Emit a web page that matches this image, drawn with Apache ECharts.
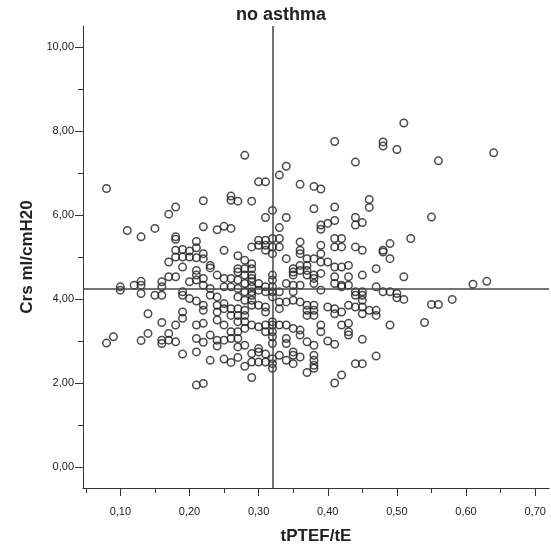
<!DOCTYPE html>
<html>
<head>
<meta charset="utf-8">
<title>no asthma</title>
<script src="https://cdn.jsdelivr.net/npm/echarts@6.0.0/dist/echarts.min.js"></script>
<style>
  html, body { margin: 0; padding: 0; background: #fff; }
  #chart { width: 551px; height: 550px; }
</style>
</head>
<body>
<div id="chart"></div>
<script>
// [tPTEF/tE, Crs ml/cmH20]
const points = [
  // upper part
  [0.08,6.63],[0.11,5.63],[0.13,5.48],[0.15,5.68],[0.17,6.02],[0.18,6.19],[0.18,5.48],[0.18,5.42],
  [0.21,5.37],[0.22,6.34],[0.22,5.72],[0.24,5.65],[0.25,5.73],[0.26,5.68],[0.26,6.45],[0.26,6.35],
  [0.27,6.33],[0.28,7.42],[0.29,6.33],[0.30,6.79],[0.31,6.79],[0.31,5.94],[0.32,6.11],[0.33,6.95],
  [0.33,5.70],[0.34,7.16],[0.34,5.94],[0.36,6.73],[0.38,6.68],[0.38,6.15],[0.39,6.62],[0.39,5.76],
  [0.39,5.66],[0.40,5.80],[0.41,7.75],[0.41,6.19],[0.41,5.87],[0.44,7.26],[0.44,5.94],[0.44,5.76],
  [0.45,5.82],[0.46,6.37],[0.46,6.18],[0.48,7.74],[0.48,7.64],[0.50,7.56],[0.51,8.19],[0.55,5.95],
  [0.56,7.29],[0.64,7.48],
  // right side
  [0.49,5.32],[0.52,5.44],[0.48,5.16],[0.48,5.12],[0.49,4.96],[0.51,4.53],[0.61,4.35],[0.63,4.42],
  [0.48,4.17],[0.49,4.17],[0.50,4.13],[0.50,4.03],[0.51,3.99],[0.55,3.87],[0.56,3.87],[0.58,3.99],
  [0.49,3.38],[0.54,3.44],
  // left side
  [0.25,5.16],[0.27,5.03],[0.18,5.16],[0.19,5.18],[0.18,5.00],[0.19,5.00],[0.20,5.14],[0.20,5.00],
  [0.21,5.22],[0.21,4.98],[0.22,5.08],[0.22,4.96],[0.23,4.80],[0.23,4.74],[0.17,4.88],[0.19,4.76],
  [0.21,4.68],[0.21,4.57],[0.22,4.49],[0.17,4.53],[0.18,4.53],[0.20,4.41],[0.21,4.45],[0.22,4.33],
  [0.24,4.57],[0.25,4.49],[0.26,4.49],[0.27,4.45],[0.27,4.72],[0.27,4.64],
  [0.16,4.41],[0.16,4.29],[0.16,4.09],[0.13,4.42],[0.13,4.33],[0.13,4.13],[0.12,4.33],[0.10,4.29],
  [0.10,4.21],[0.15,4.09],[0.19,4.17],[0.19,4.09],[0.20,4.01],[0.21,3.95],[0.22,3.85],[0.22,3.73],
  [0.23,4.25],[0.23,4.09],[0.24,4.05],[0.24,3.85],[0.24,3.69],[0.24,3.50],
  [0.25,4.29],[0.25,3.89],[0.25,3.77],[0.25,3.38],[0.26,4.29],[0.26,3.77],[0.26,3.61],[0.26,3.22],
  [0.27,4.25],[0.27,4.05],[0.27,3.77],[0.27,3.61],[0.27,3.46],[0.27,3.22],[0.27,3.06],
  [0.19,3.69],[0.19,3.54],[0.18,3.38],[0.14,3.65],[0.16,3.44],[0.21,3.38],[0.22,3.42],
  [0.09,3.10],[0.08,2.95],[0.14,3.18],[0.13,3.01],[0.17,3.18],[0.17,3.02],[0.16,3.02],[0.16,2.94],
  [0.18,2.98],[0.21,3.06],[0.22,2.97],[0.23,3.14],[0.24,3.02],[0.24,2.88],[0.25,3.02],[0.26,3.06],
  // centre
  [0.41,5.44],[0.42,5.44],[0.41,5.24],[0.42,5.24],[0.36,5.36],[0.36,5.16],[0.36,5.08],[0.39,5.28],
  [0.39,5.08],[0.44,5.24],[0.45,5.16],[0.30,5.40],[0.31,5.40],[0.30,5.28],[0.31,5.28],[0.29,5.24],
  [0.31,5.16],[0.32,5.44],[0.33,5.44],[0.32,5.24],[0.33,5.24],[0.32,5.08],[0.34,4.96],[0.37,4.96],
  [0.38,4.96],[0.39,4.88],[0.40,4.88],[0.41,4.76],[0.42,4.76],[0.43,4.80],[0.47,4.72],[0.35,4.72],
  [0.35,4.64],[0.35,4.57],[0.36,4.80],[0.36,4.68],[0.37,4.80],[0.37,4.68],[0.37,4.57],[0.38,4.57],
  [0.38,4.49],[0.38,4.37],[0.39,4.61],[0.41,4.53],[0.41,4.37],[0.42,4.33],[0.42,4.29],[0.43,4.53],
  [0.43,4.33],[0.45,4.57],[0.39,4.21],[0.36,4.33],[0.35,4.33],[0.34,4.37],[0.33,4.17],[0.44,4.17],
  [0.44,4.09],[0.45,4.17],[0.45,4.09],[0.45,3.97],[0.47,4.29],
  [0.28,4.92],[0.29,4.84],[0.28,4.72],[0.29,4.72],
  [0.29,4.57],[0.29,4.49],[0.29,4.41],[0.29,4.29],[0.29,4.17],[0.29,4.09],[0.29,3.97],[0.29,3.85],
  [0.28,4.57],[0.28,4.37],[0.28,4.17],[0.28,3.97],[0.28,3.73],[0.28,3.61],
  [0.30,4.37],[0.30,4.21],[0.31,4.29],[0.31,4.17],[0.30,3.85],[0.31,3.81],[0.31,3.69],
  [0.32,4.57],[0.32,4.45],[0.32,4.29],[0.32,4.17],[0.32,4.05],
  [0.33,3.93],[0.33,3.77],[0.34,3.93],[0.35,4.17],[0.35,3.97],[0.36,3.93],
  [0.37,3.85],[0.37,3.73],[0.37,3.61],[0.38,3.85],[0.38,3.73],[0.38,3.61],
  [0.40,3.81],[0.41,3.77],[0.41,3.65],[0.42,3.69],[0.43,3.85],
  [0.44,3.81],[0.45,3.81],[0.45,3.65],[0.46,3.73],[0.47,3.73],[0.47,3.61],
  [0.29,3.38],[0.30,3.34],[0.28,3.46],[0.28,3.30],[0.31,3.38],[0.31,3.22],[0.32,3.46],[0.32,3.38],
  [0.32,3.22],[0.32,3.10],[0.33,3.38],[0.34,3.38],[0.35,3.30],[0.36,3.26],[0.36,3.14],
  [0.39,3.38],[0.39,3.22],[0.42,3.38],[0.43,3.42],[0.43,3.22],[0.43,3.14],[0.45,3.04],
  [0.34,3.06],[0.37,2.98],[0.40,3.00],
  // lower part
  [0.19,2.69],[0.21,2.74],[0.23,2.54],[0.25,2.57],[0.26,2.49],[0.27,2.61],[0.27,2.86],[0.28,2.40],
  [0.21,1.95],[0.22,1.99],
  [0.28,2.90],[0.29,2.70],[0.30,2.82],[0.30,2.74],[0.31,2.69],[0.29,2.50],[0.30,2.50],[0.31,2.50],
  [0.29,2.13],[0.32,2.94],[0.32,2.58],[0.32,2.46],[0.32,2.35],[0.33,2.66],[0.34,2.94],[0.34,2.54],
  [0.35,2.74],[0.35,2.66],[0.35,2.46],[0.36,2.62],[0.37,2.25],[0.38,2.90],[0.38,2.66],[0.38,2.54],
  [0.38,2.42],[0.38,2.35],[0.41,2.92],[0.42,2.19],[0.41,2.00],[0.44,2.46],[0.45,2.46],[0.47,2.64]
];

// reference lines
const refX = 0.322;
const refY = 4.25;

const xTicks = [0.1, 0.2, 0.3, 0.4, 0.5, 0.6, 0.7];
const xMinorTicks = [0.05, 0.15, 0.25, 0.35, 0.45, 0.55, 0.65];
const yTicks = [0, 2, 4, 6, 8, 10];
const yMinorTicks = [1, 3, 5, 7, 9];

const xMin = 0.046, xMax = 0.72;
const yMin = -0.5, yMax = 10.5;

const font = "'Liberation Sans', Arial, sans-serif";
const ink = '#222';
const comma = (v) => v.toFixed(2).replace('.', ',');

let myChart = echarts.init(document.getElementById('chart'));
let option = {
  animation: false,
  title: {
    text: 'no asthma',
    left: 236,
    top: 6,
    padding: 0,
    textStyle: { fontFamily: font, fontSize: 18, fontWeight: 'bold', color: ink }
  },
  grid: { left: 83, right: 2, top: 26, bottom: 62 },
  xAxis: [
    {
      type: 'value', min: xMin, max: xMax,
      name: 'tPTEF/tE', nameLocation: 'middle', nameGap: 40,
      nameTextStyle: { fontFamily: font, fontSize: 17, fontWeight: 'bold', color: ink },
      axisLine: { show: true, onZero: false, lineStyle: { color: '#333', width: 1 } },
      axisTick: { show: true, length: 8, customValues: xTicks, lineStyle: { color: '#333' } },
      axisLabel: { customValues: xTicks, formatter: comma, fontFamily: font, fontSize: 11, color: ink, margin: 18 },
      splitLine: { show: false }
    },
    {
      // minor ticks
      type: 'value', min: xMin, max: xMax, position: 'bottom',
      axisLine: { show: false, onZero: false },
      axisTick: { show: true, length: 5, customValues: xMinorTicks, lineStyle: { color: '#333' } },
      axisLabel: { show: false },
      splitLine: { show: false }
    }
  ],
  yAxis: [
    {
      type: 'value', min: yMin, max: yMax,
      name: 'Crs ml/cmH20', nameLocation: 'middle', nameGap: 47,
      nameTextStyle: { fontFamily: font, fontSize: 17, fontWeight: 'bold', color: ink },
      axisLine: { show: true, onZero: false, lineStyle: { color: '#333', width: 1 } },
      axisTick: { show: true, length: 8, customValues: yTicks, lineStyle: { color: '#333' } },
      axisLabel: { customValues: yTicks, formatter: comma, fontFamily: font, fontSize: 11, color: ink, margin: 9 },
      splitLine: { show: false }
    },
    {
      // minor ticks
      type: 'value', min: yMin, max: yMax, position: 'left',
      axisLine: { show: false, onZero: false },
      axisTick: { show: true, length: 5, customValues: yMinorTicks, lineStyle: { color: '#333' } },
      axisLabel: { show: false },
      splitLine: { show: false }
    }
  ],
  series: [
    {
      type: 'scatter',
      data: points,
      symbol: 'circle',
      symbolSize: 7.5,
      itemStyle: { color: 'rgba(0,0,0,0)', borderColor: '#1e1e1e', borderWidth: 1.5 },
      markLine: {
        silent: true,
        symbol: 'none',
        label: { show: false },
        lineStyle: { color: '#444', width: 1.5, type: 'solid' },
        data: [{ xAxis: refX }, { yAxis: refY }]
      }
    }
  ]
};
myChart.setOption(option);
</script>
</body>
</html>
